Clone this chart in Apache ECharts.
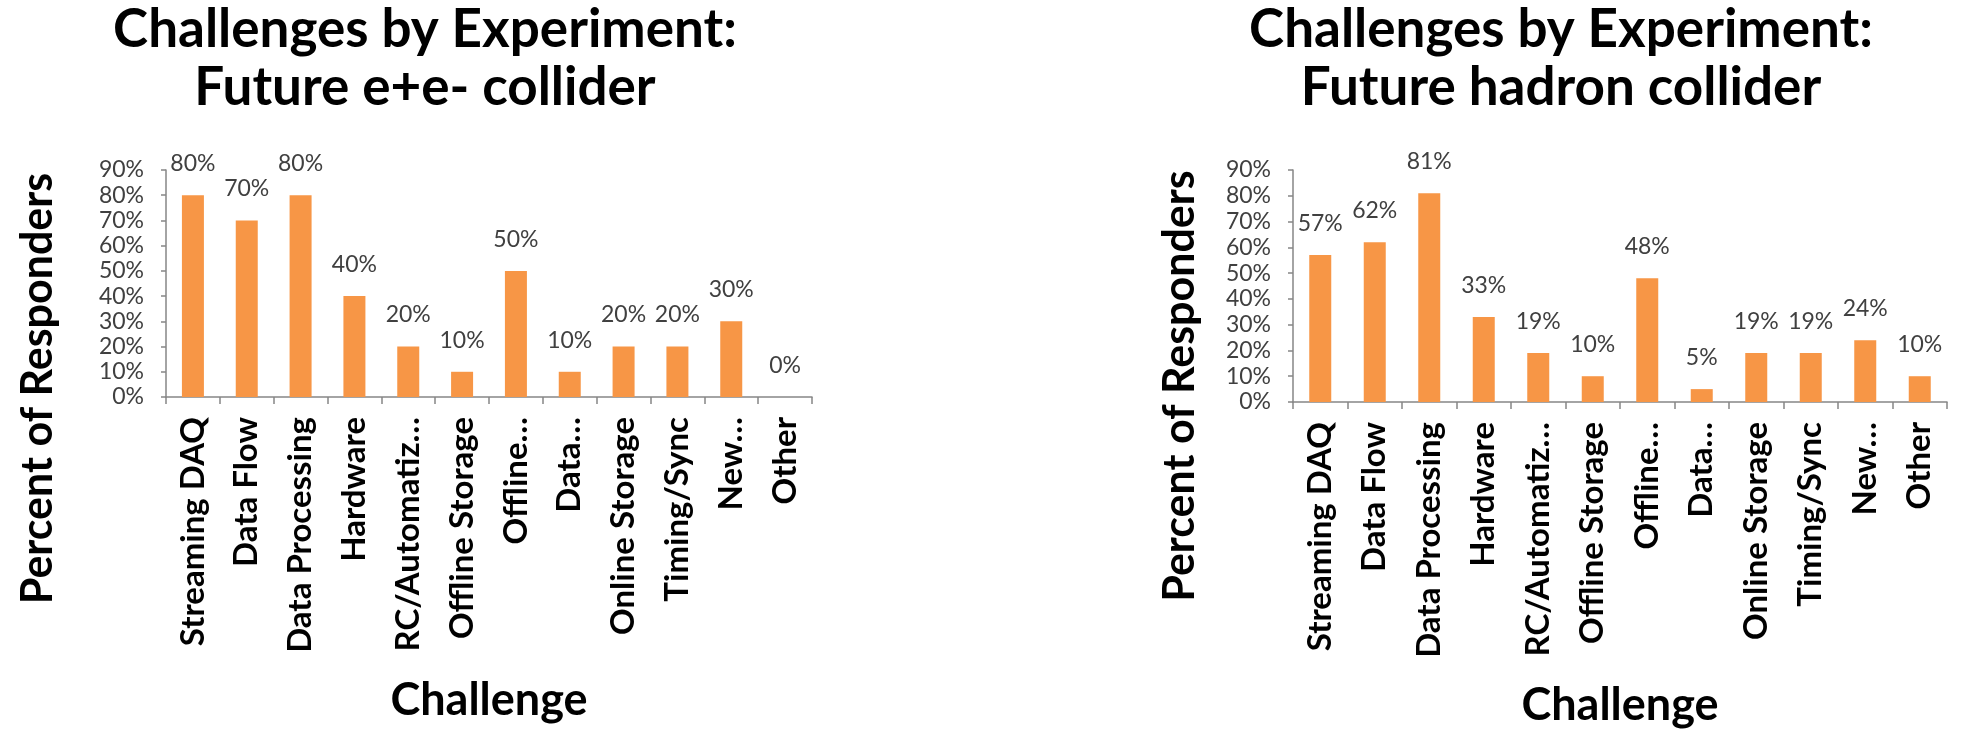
<!DOCTYPE html>
<html>
<head>
<meta charset="utf-8">
<script src="https://cdn.jsdelivr.net/npm/echarts@6/dist/echarts.min.js"></script>
<style>
html,body{margin:0;padding:0;background:#fff;}
#chart{width:1974px;height:739px;}
</style>
</head>
<body>
<div id="chart"></div>
<script>
const categories = ['Streaming DAQ','Data Flow','Data Processing','Hardware','RC/Automatiz\u2026','Offline Storage','Offline\u2026','Data\u2026','Online Storage','Timing/Sync','New\u2026','Other'];
const eeValues = [80,70,80,40,20,10,50,10,20,20,30,0];
const hadronValues = [57,62,81,33,19,10,48,5,19,19,24,10];
const yTicks = {min:0, max:90, interval:10};
const titles = ['Challenges by Experiment:\nFuture e+e- collider','Challenges by Experiment:\nFuture hadron collider'];
const yName = 'Percent of Responders';
const xName = 'Challenge';

const chart = echarts.init(document.getElementById('chart'), null, {renderer:'canvas'});
const axisColor = '#868686';
const barColor = '#F79646';
const F = 'Lato, "DejaVu Sans", sans-serif';

function xAxis(gi){
  return {
    type:'category', gridIndex:gi, data:categories,
    axisLine:{show:true, lineStyle:{color:axisColor, width:1.5}},
    axisTick:{show:true, length:7, lineStyle:{color:axisColor, width:1.5}},
    axisLabel:{rotate:90, interval:0, margin:20, color:'#000', fontFamily:F, fontWeight:'bold', fontSize:33},
    name:xName, nameLocation:'middle', nameGap:281,
    nameTextStyle:{color:'#000', fontFamily:F, fontWeight:'bold', fontSize:45}
  };
}
function yAxis(gi, gap, shift){
  return {
    type:'value', gridIndex:gi, min:yTicks.min, max:yTicks.max, interval:yTicks.interval,
    axisLine:{show:true, lineStyle:{color:axisColor, width:1.5}},
    axisTick:{show:true, length:5, lineStyle:{color:axisColor, width:1.5}},
    splitLine:{show:false},
    axisLabel:{formatter:'{value}%', margin:22, color:'#404040', fontFamily:F, fontSize:23},
    name:yName, nameLocation:'middle', nameGap:gap, nameRotate:90,
    nameTextStyle:{color:'#000', fontFamily:F, fontWeight:'bold', fontSize:43, padding:[0, shift, 0, 0]}
  };
}
function series(gi, data){
  return {
    type:'bar', xAxisIndex:gi, yAxisIndex:gi, data:data, barWidth:22,
    itemStyle:{color:barColor},
    label:{show:true, position:'top', distance:20, formatter:'{c}%', color:'#404040', fontFamily:F, fontSize:23}
  };
}

chart.setOption({
  animation:false,
  title:[
    {text:titles[0], left:420, top:-4, textAlign:'center',
     textStyle:{fontFamily:F, fontWeight:'bold', fontSize:53, lineHeight:58, color:'#000'}},
    {text:titles[1], left:1556, top:-4, textAlign:'center',
     textStyle:{fontFamily:F, fontWeight:'bold', fontSize:53, lineHeight:58, color:'#000'}}
  ],
  grid:[
    {left:166, right:1162, top:170, bottom:342, containLabel:false},
    {left:1293, right:27, top:170, bottom:337, containLabel:false}
  ],
  xAxis:[xAxis(0), xAxis(1)],
  yAxis:[yAxis(0, 106, 210), yAxis(1, 91, 200)],
  series:[series(0, eeValues), series(1, hadronValues)]
});
</script>
</body>
</html>
